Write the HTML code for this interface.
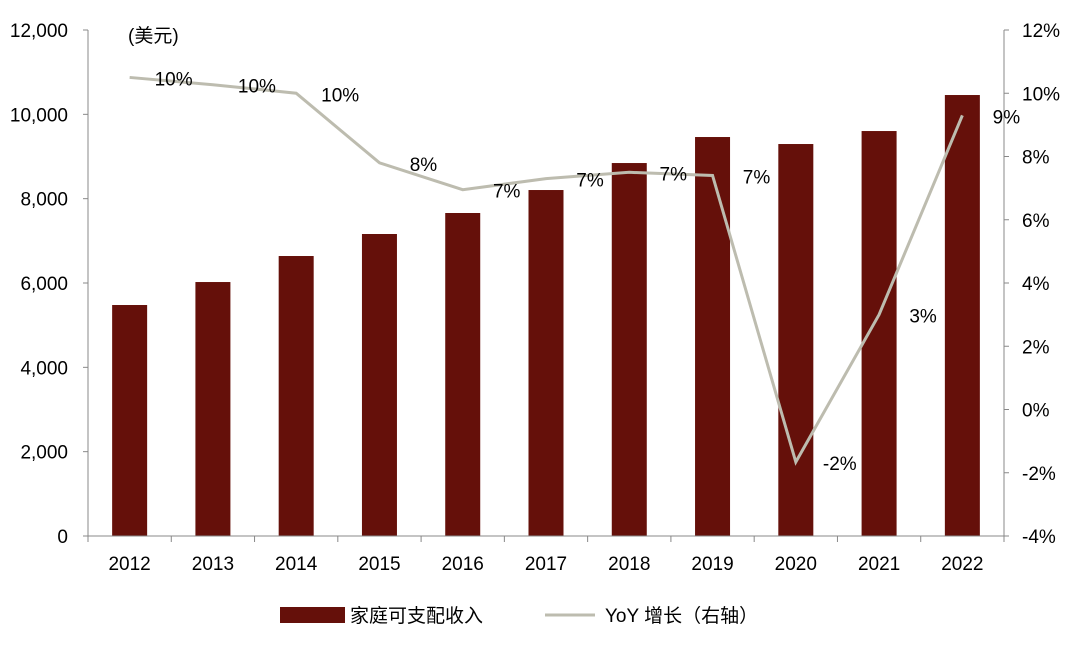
<!DOCTYPE html>
<html><head><meta charset="utf-8"><style>
body{margin:0;background:#fff;}
svg text{font-family:"Liberation Sans","Noto Sans CJK SC",sans-serif;font-size:19px;fill:#000;}
</style></head><body>
<svg id="chart" width="1080" height="644" xmlns="http://www.w3.org/2000/svg"></svg>
<script>
const categories=["2012","2013","2014","2015","2016","2017","2018","2019","2020","2021","2022"];
const incomeValues=[5478,6023,6640,7162,7660,8205,8845,9462,9296,9604,10458];
const yoyValues=[10.5,10.27,10.0,7.8,6.95,7.3,7.5,7.4,-1.66,3.0,9.3];
const yoyLabels=["10%","10%","10%","8%","7%","7%","7%","7%","-2%","3%","9%"];
const leftTicks=[0,2000,4000,6000,8000,10000,12000];
const leftTickLabels=["0","2,000","4,000","6,000","8,000","10,000","12,000"];
const rightTicks=[-4,-2,0,2,4,6,8,10,12];
const rightTickLabels=["-4%","-2%","0%","2%","4%","6%","8%","10%","12%"];

const svg=document.getElementById('chart');
const NS="http://www.w3.org/2000/svg";
const X0=88,X1=1004,YT=30,YB=536;
const band=(X1-X0)/categories.length;
const xc=i=>X0+band*(i+0.5);
const yL=v=>YB-(v-0)/12000*(YB-YT);
const yR=v=>YB-(v+4)/16*(YB-YT);
function mk(tag,attrs,parent){const e=document.createElementNS(NS,tag);for(const k in attrs)e.setAttribute(k,attrs[k]);(parent||svg).appendChild(e);return e;}

// bars
incomeValues.forEach((v,i)=>{
  const r=mk('rect',{x:xc(i)-17.5,y:yL(v),width:35,height:YB-yL(v),fill:'#65100a'});
  
  
});
// axes
const ax=mk('path',{d:`M${X0},${YT}V${YB}H${X1}V${YT}`,stroke:'#888',fill:'none','stroke-width':1});


leftTicks.forEach((t,i)=>{
  mk('line',{x1:X0-5,x2:X0,y1:yL(t),y2:yL(t),stroke:'#888'});
  const tx=mk('text',{x:68,y:yL(t)+7,'text-anchor':'end'});tx.textContent=leftTickLabels[i];
  
  
});
rightTicks.forEach((t,i)=>{
  mk('line',{x1:X1,x2:X1+5,y1:yR(t),y2:yR(t),stroke:'#888'});
  const tx=mk('text',{x:1022,y:yR(t)+7});tx.textContent=rightTickLabels[i];
  
  
});
categories.forEach((c,i)=>{
  mk('line',{x1:X0+band*i,x2:X0+band*i,y1:YB,y2:YB+6,stroke:'#888'});
  const tx=mk('text',{x:xc(i),y:570,'text-anchor':'middle'});tx.textContent=c;
  
  
});
mk('line',{x1:X1,x2:X1,y1:YB,y2:YB+6,stroke:'#888'});
// line
const pts=yoyValues.map((v,i)=>xc(i)+','+yR(v)).join(' ');
const pl=mk('polyline',{points:pts,fill:'none',stroke:'#bdbcaf','stroke-width':3});


yoyValues.forEach((v,i)=>{
  const tx=mk('text',{x:xc(i)+44,y:yR(v)+8,'text-anchor':'middle'});tx.textContent=yoyLabels[i];
  
  
});
const unit=mk('text',{x:128,y:42});unit.textContent='(美元)';


// legend
const lg=mk('g',{});


mk('rect',{x:280,y:607,width:65,height:16,fill:'#65100a'},lg);
const t1=mk('text',{x:350,y:622},lg);t1.textContent='家庭可支配收入';
mk('line',{x1:545,x2:595,y1:615,y2:615,stroke:'#bdbcaf','stroke-width':3},lg);
const t2=mk('text',{x:605,y:622},lg);t2.textContent='YoY 增长（右轴）';
</script>
</body></html>
